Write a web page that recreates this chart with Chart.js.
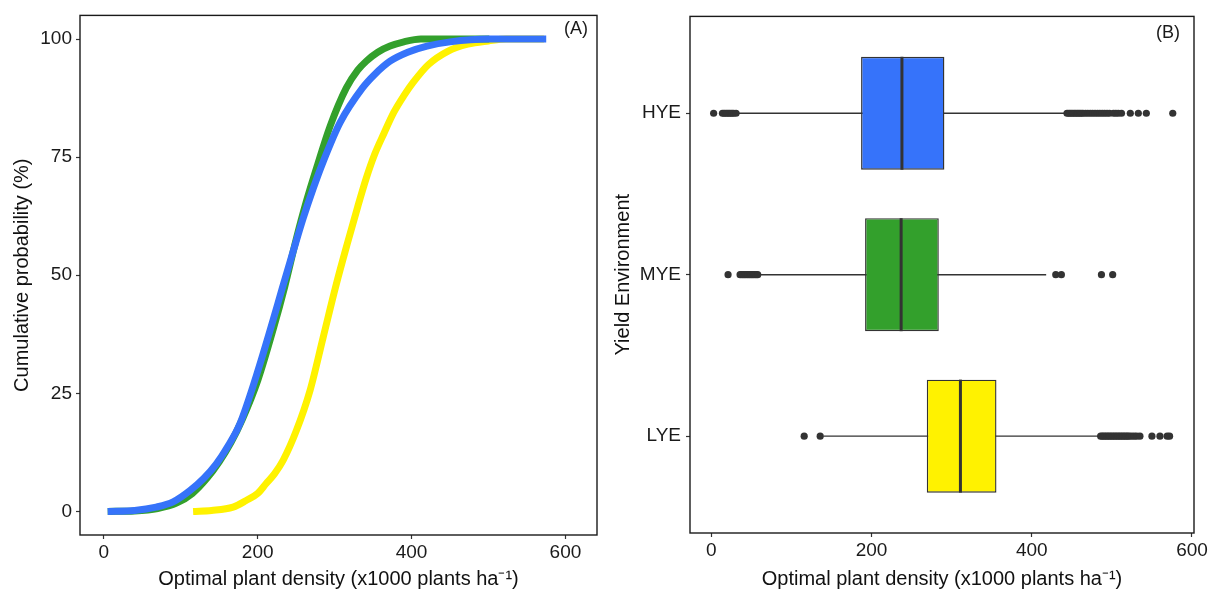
<!DOCTYPE html>
<html>
<head>
<meta charset="utf-8">
<script src="https://cdn.jsdelivr.net/npm/chart.js@4.4.1/dist/chart.umd.min.js"></script>
<style>
  body { margin: 0; background: #fff; }
  #wrap { position: relative; width: 1213px; height: 590px; }
  #cdf { position: absolute; left: 0; top: 0; }
  #box { position: absolute; left: 606px; top: 0; }
</style>
</head>
<body>
<div id="wrap">
  <canvas id="cdf" width="606" height="590"></canvas>
  <canvas id="box" width="607" height="590"></canvas>
</div>
<script>
// (A) cumulative probability curves, [density, percent]
const hyeCdf = [[5,0],[40,0.2],[68,0.9],[90,2],[112,4.4],[130,7],[146,10],[162,14],[177,18.6],[198,28.6],[220,40.5],[232,47.3],[246,55],[259,62],[272,68.3],[285,74],[307,82.3],[336,89.6],[352,92.5],[372,95.3],[395,97.2],[420,98.5],[450,99.4],[500,100],[575,100]];
const myeCdf = [[5,0],[40,0.1],[70,0.6],[95,1.8],[115,3.8],[134,7],[150,10.5],[165,14.5],[180,19.5],[200,27.7],[220,38.5],[235,47.5],[250,57.6],[263,65.5],[278,73.5],[294,81.5],[315,89.6],[330,93.4],[341,95.3],[356,97.2],[372,98.5],[390,99.4],[412,100],[501,100]];
const lyeCdf = [[116,0],[140,0.2],[168,0.9],[185,2.3],[200,3.8],[211,5.9],[222,8],[233,10.8],[250,17],[268,25.6],[285,36.8],[302,48],[317,57],[330,64.5],[341,70.5],[352,75.6],[364,80],[377,84.5],[390,88],[402,90.8],[422,94.6],[447,97.4],[473,98.9],[500,99.6],[523,100],[572,100]];
const cdfYTicks = [0, 25, 50, 75, 100];
const densityTicks = [0, 200, 400, 600];

// (B) box plots, top to bottom
const categories = ['HYE', 'MYE', 'LYE'];
const boxQ1 = [187, 192, 269];
const boxMedian = [238, 237, 311];
const boxQ3 = [291, 284, 356];
const whiskerLow = [34, 60, 140];
const whiskerHigh = [443, 418, 485];
const hyeOutliers = [3, 14, 16, 18, 20, 22, 24, 26, 28, 31, 444, 446, 448, 450, 452, 454, 456, 458, 460, 462, 464, 467, 470, 473, 476, 479, 482, 485, 488, 491, 494, 497, 502, 505, 508, 512, 523, 533, 543, 576];
const myeOutliers = [21, 36, 38, 40, 42, 44, 46, 48, 50, 52, 54, 56, 58, 430, 437, 487, 501];
const lyeOutliers = [116, 136, 486, 488, 490, 492, 494, 496, 498, 500, 502, 504, 506, 508, 510, 512, 514, 516, 518, 520, 522, 525, 528, 531, 535, 550, 560, 569, 572];

const BLUE = '#3673fa';
const GREEN = '#33a02c';
const YELLOW = '#fff200';
const boxColors = [BLUE, GREEN, YELLOW];
const INK = '#333333';
const FONT = '"Liberation Sans", Arial, sans-serif';

Chart.defaults.font.family = FONT;
Chart.defaults.color = '#1a1a1a';
Chart.defaults.animation = false;

function framePlugin(tag, dx, dy) {
  return {
    id: 'frame',
    afterDraw(chart) {
      const { ctx, chartArea: a } = chart;
      ctx.save();
      ctx.strokeStyle = '#1a1a1a';
      ctx.lineWidth = 1.4;
      ctx.strokeRect(a.left, a.top, a.right - a.left, a.bottom - a.top);
      ctx.fillStyle = '#1a1a1a';
      ctx.font = '18px ' + FONT;
      ctx.textAlign = 'center';
      ctx.textBaseline = 'middle';
      ctx.fillText(tag, a.right - dx, a.top + dy);
      ctx.restore();
    }
  };
}

const medianPlugin = {
  id: 'medians',
  afterDatasetsDraw(chart) {
    const meta = chart.getDatasetMeta(0);
    const xs = chart.scales.x;
    const ctx = chart.ctx;
    ctx.save();
    ctx.strokeStyle = INK;
    ctx.lineWidth = 3;
    meta.data.forEach((bar, i) => {
      const px = xs.getPixelForValue(boxMedian[i]);
      ctx.beginPath();
      ctx.moveTo(px, bar.y - bar.height / 2);
      ctx.lineTo(px, bar.y + bar.height / 2);
      ctx.stroke();
    });
    ctx.restore();
  }
};

function axisGrid() {
  return { display: true, drawOnChartArea: false, drawTicks: true, tickLength: 4, tickColor: INK, tickWidth: 1.2, offset: false };
}

const tickFont = { size: 19 };
const titleFont = { size: 20, lineHeight: 1.1 };
const xTitle = 'Optimal plant density (x1000 plants ha\u207B\u00B9)';

const toXY = pts => pts.map(([x, y]) => ({ x, y }));
const cdfLine = (data, color, order) => ({
  data: toXY(data),
  showLine: true,
  borderColor: color,
  borderWidth: 7,
  pointRadius: 0,
  cubicInterpolationMode: 'monotone',
  order
});

new Chart(document.getElementById('cdf'), {
  type: 'scatter',
  data: {
    datasets: [
      cdfLine(hyeCdf, BLUE, 0),
      cdfLine(myeCdf, GREEN, 1),
      cdfLine(lyeCdf, YELLOW, 2)
    ]
  },
  options: {
    responsive: false,
    devicePixelRatio: 1,
    layout: { padding: { top: 14, right: 9, left: 0, bottom: 0 } },
    plugins: { legend: { display: false }, tooltip: { enabled: false } },
    scales: {
      x: {
        type: 'linear', min: -31, max: 641,
        afterBuildTicks: axis => { axis.ticks = densityTicks.map(v => ({ value: v })); },
        afterFit: axis => { axis.height = 55; },
        grid: axisGrid(),
        border: { display: false },
        ticks: { font: tickFont, padding: 2, color: '#1a1a1a' },
        title: { display: true, text: xTitle, font: titleFont, padding: 0, color: '#111' }
      },
      y: {
        type: 'linear', min: -5, max: 105,
        afterBuildTicks: axis => { axis.ticks = cdfYTicks.map(v => ({ value: v })); },
        afterFit: axis => { axis.width = 80; },
        grid: axisGrid(),
        border: { display: false },
        ticks: { font: tickFont, padding: 4, color: '#1a1a1a' },
        title: { display: true, text: 'Cumulative probability (%)', font: titleFont, padding: { top: 11, bottom: 0 }, color: '#111' }
      }
    }
  },
  plugins: [framePlugin('(A)', 21, 14)]
});

const outlierSet = (vals, row) => ({
  type: 'scatter',
  data: vals.map(v => ({ x: v, y: row })),
  pointRadius: 3.6,
  pointBackgroundColor: INK,
  pointBorderWidth: 0,
  order: 1
});

const whiskerSet = row => ({
  type: 'scatter',
  showLine: true,
  data: [{ x: whiskerLow[row - 1], y: row }, { x: whiskerHigh[row - 1], y: row }],
  borderColor: INK,
  borderWidth: 1.4,
  pointRadius: 0,
  order: 2
});

new Chart(document.getElementById('box'), {
  type: 'scatter',
  data: {
    datasets: [
      {
        type: 'bar',
        indexAxis: 'y',
        data: categories.map((c, i) => ({ x: [boxQ1[i], boxQ3[i]], y: i + 1 })),
        backgroundColor: boxColors,
        borderColor: INK,
        borderWidth: 1.4,
        borderSkipped: false,
        barPercentage: 0.7,
        categoryPercentage: 1,
        order: 0
      },
      whiskerSet(1), whiskerSet(2), whiskerSet(3),
      outlierSet(hyeOutliers, 1),
      outlierSet(myeOutliers, 2),
      outlierSet(lyeOutliers, 3)
    ]
  },
  options: {
    responsive: false,
    devicePixelRatio: 1,
    layout: { padding: { top: 11, right: 19, left: 0, bottom: 0 } },
    plugins: { legend: { display: false }, tooltip: { enabled: false } },
    scales: {
      x: {
        type: 'linear', min: -26.5, max: 602.5, offset: false,
        afterBuildTicks: axis => { axis.ticks = densityTicks.map(v => ({ value: v })); },
        afterFit: axis => { axis.height = 57; },
        grid: axisGrid(),
        border: { display: false },
        ticks: { font: tickFont, padding: 2, color: '#1a1a1a' },
        title: { display: true, text: xTitle, font: titleFont, padding: 0, color: '#111' }
      },
      y: {
        type: 'linear', min: 0.4, max: 3.6, reverse: true, offset: false,
        afterBuildTicks: axis => { axis.ticks = categories.map((c, i) => ({ value: i + 1 })); },
        afterFit: axis => { axis.width = 84; },
        grid: axisGrid(),
        border: { display: false },
        ticks: { font: tickFont, padding: 5, color: '#1a1a1a', callback: (v, i) => categories[i] },
        title: { display: true, text: 'Yield Environment', font: titleFont, padding: { top: 6, bottom: 0 }, color: '#111' }
      }
    }
  },
  plugins: [medianPlugin, framePlugin('(B)', 26, 17)]
});
</script>
</body>
</html>
